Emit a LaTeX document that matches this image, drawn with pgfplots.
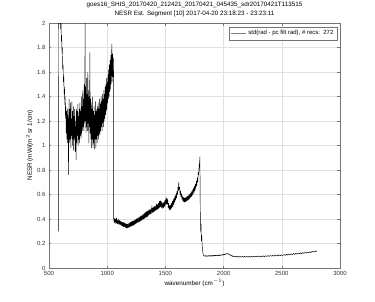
\documentclass[border=0pt]{standalone}
\usepackage{fontspec}
\setmainfont{Liberation Sans}
\usepackage{pgfplots}
\pgfplotsset{compat=1.18}
\begin{document}
\begin{tikzpicture}
\begin{axis}[
  scale only axis, width=291pt, height=245pt,
  xmin=500, xmax=3000, ymin=0, ymax=2,
  xtick={500,1000,1500,2000,2500,3000},
  ytick={0,0.2,0.4,0.6,0.8,1,1.2,1.4,1.6,1.8,2},
  grid=major, grid style={black!12, line width=0.3pt},
  axis line style={black!55, line width=0.4pt},
  tick style={black!55, line width=0.4pt},
  tick align=inside, major tick length=2.5pt,
  /pgf/number format/assume math mode=true,
  /pgf/number format/set thousands separator={},
  ticklabel style={font=\fontsize{6}{7}\selectfont, text=black!80},
  scaled ticks=false,
  title={goes16\_SHIS\_20170420\_212421\_20170421\_045435\_sdr20170421T113515\\NESR Est. Segment [10] 2017-04-20 23:18:23 - 23:23:11},
  title style={align=center, font=\fontsize{6.3}{9}\selectfont, yshift=-3pt},
  xlabel={wavenumber (cm$^{-1}$)},
  ylabel={NESR (mW/(m$^2$ sr 1/cm)},
  label style={font=\fontsize{6.3}{7}\selectfont},
  xlabel style={yshift=3pt},
  ylabel style={yshift=-3pt},
  legend style={at={(0.99,0.985)}, anchor=north east, draw=black!55, line width=0.4pt,
    font=\fontsize{6}{7}\selectfont, inner sep=1.5pt, legend cell align=left},
  legend image code/.code={\draw[black!50, line width=0.4pt] (0cm,0cm) -- (0.55cm,0cm);},
]
\addplot[black, line width=0.45pt, line join=bevel] coordinates {
(580,0.30) (582,2.10) (590,2.05) (595,2.10)
(600,1.95) (603,2.05) (606,1.85) (609,1.90) (612,1.75) (615,1.80) (618,1.62) (621,1.66)
(624,1.52) (627,1.56) (630,1.42) (633,1.48) (636,1.33) (639,1.40) (642,1.22) (645,1.32)
(648,1.10) (651,1.28) (654,1.05) (657,1.30) (660,1.02) (663,1.25) (666,1.08) (668,0.76)
(670,1.20) (673,1.38) (676,1.02) (679,1.30) (682,1.05) (685,1.35) (688,0.98) (691,1.22)
(694,1.08) (697,1.36) (700,1.00) (703,1.28) (706,1.05) (709,1.32) (712,0.96) (715,1.24)
(718,1.06) (721,1.30) (724,0.95) (727,1.20) (730,1.05) (733,0.88) (736,1.30) (739,1.02)
(742,1.28) (745,1.08) (748,1.34) (751,1.00) (754,1.24) (757,1.05) (760,1.30) (763,1.02)
(766,1.35) (769,1.08) (772,1.28) (775,1.05) (778,1.40) (781,1.10) (784,1.32) (787,1.12)
(790,1.45) (793,1.15) (796,1.38) (799,1.12) (802,1.50) (805,1.18) (808,1.42) (810,2.00)
(812,1.20) (815,1.48) (818,1.10) (821,1.55) (824,1.15) (827,1.42) (830,1.12) (833,1.60)
(836,1.18) (839,1.45) (842,1.02) (845,1.40) (848,1.15) (851,1.76) (854,1.10) (857,1.38)
(860,1.05) (863,1.35) (866,0.98) (869,1.30) (872,1.05) (875,1.40) (878,0.98) (881,1.28)
(884,1.02) (887,1.32) (890,0.97) (893,1.25) (896,1.05) (899,1.36) (902,0.98) (905,1.28)
(908,1.05) (911,1.30) (914,1.02) (917,1.32) (920,1.08) (923,1.35) (926,1.05) (929,1.30)
(932,1.10) (935,1.38) (938,1.08) (941,1.34) (944,1.12) (947,1.40) (950,1.15) (953,1.36)
(956,1.12) (959,1.42) (962,1.18) (965,1.38) (968,1.15) (971,1.45) (974,1.20) (977,1.42)
(980,1.22) (983,1.48) (986,1.25) (989,1.50) (992,1.28) (995,1.55) (998,1.30) (1001,1.52)
(1004,1.35) (1007,1.58) (1010,1.38) (1013,1.62) (1016,1.40) (1019,1.66) (1022,1.44)
(1025,1.70) (1028,1.46) (1031,1.74) (1034,1.50) (1037,1.70) (1040,1.83) (1043,1.52)
(1046,1.75) (1049,1.56) (1052,1.72) (1055,1.58)
(1056,0.40) (1060,0.37) (1064,0.41) (1068,0.36) (1072,0.40) (1076,0.37) (1080,0.41)
(1084,0.36) (1088,0.39) (1092,0.36) (1096,0.40) (1100,0.355) (1104,0.39) (1108,0.355)
(1112,0.385) (1116,0.35) (1120,0.38) (1124,0.345) (1128,0.375) (1132,0.34) (1136,0.375)
(1140,0.335) (1144,0.37) (1148,0.335) (1152,0.37) (1156,0.33) (1160,0.365) (1164,0.325)
(1168,0.36) (1172,0.325) (1176,0.36) (1180,0.325) (1184,0.365) (1188,0.33) (1192,0.37)
(1196,0.335) (1200,0.375) (1204,0.34) (1208,0.38) (1212,0.34) (1216,0.385) (1220,0.345)
(1224,0.385) (1228,0.35) (1232,0.39) (1236,0.355) (1240,0.395) (1244,0.36) (1248,0.40)
(1252,0.365) (1256,0.405) (1260,0.37) (1264,0.41) (1268,0.37) (1272,0.415) (1276,0.375)
(1280,0.42) (1284,0.38) (1288,0.425) (1292,0.385) (1296,0.43) (1300,0.39) (1304,0.435)
(1308,0.395) (1312,0.44) (1316,0.40) (1320,0.45) (1324,0.405) (1328,0.455) (1332,0.41)
(1336,0.46) (1340,0.415) (1344,0.465) (1348,0.42) (1352,0.47) (1356,0.43) (1360,0.48)
(1364,0.435) (1368,0.475) (1372,0.44) (1376,0.485) (1380,0.445) (1384,0.51) (1388,0.45)
(1392,0.49) (1396,0.455) (1400,0.50) (1404,0.46) (1408,0.505) (1412,0.465) (1416,0.51)
(1420,0.47) (1424,0.525) (1428,0.475) (1432,0.52) (1436,0.48) (1440,0.53) (1444,0.485)
(1448,0.545) (1452,0.49) (1456,0.55) (1460,0.50) (1464,0.545) (1468,0.49) (1472,0.535)
(1476,0.485) (1480,0.53) (1484,0.49) (1488,0.54) (1492,0.50) (1496,0.555) (1500,0.51)
(1504,0.57) (1508,0.52) (1512,0.575) (1516,0.52) (1520,0.56) (1524,0.49) (1528,0.53)
(1532,0.475) (1536,0.51) (1540,0.47) (1544,0.515) (1548,0.48) (1552,0.53) (1556,0.49)
(1560,0.545) (1564,0.50) (1568,0.56) (1572,0.515) (1576,0.575) (1580,0.535) (1584,0.59)
(1588,0.555) (1592,0.61) (1596,0.57) (1600,0.63) (1604,0.60) (1608,0.66) (1612,0.63)
(1615,0.70) (1618,0.64) (1622,0.66) (1626,0.60) (1630,0.63) (1634,0.58) (1638,0.61)
(1642,0.56) (1646,0.59) (1650,0.545) (1654,0.58) (1658,0.54) (1662,0.575) (1666,0.535)
(1670,0.575) (1674,0.54) (1678,0.58) (1682,0.545) (1686,0.585) (1690,0.55) (1694,0.59)
(1698,0.555) (1702,0.60) (1706,0.56) (1710,0.605) (1714,0.57) (1718,0.615) (1722,0.58)
(1726,0.625) (1730,0.59) (1734,0.64) (1738,0.60) (1742,0.655) (1746,0.615) (1750,0.67)
(1754,0.63) (1758,0.685) (1762,0.65) (1766,0.71) (1770,0.67) (1774,0.74) (1778,0.70)
(1782,0.78) (1786,0.76) (1790,0.85) (1793,0.82) (1796,0.91)
(1798,0.70) (1800,0.40) (1803,0.30) (1806,0.36) (1809,0.22) (1812,0.27) (1816,0.18)
(1820,0.14) (1825,0.11) (1830,0.100) (1836,0.097)
(1840,0.101) (1845,0.095) (1850,0.102) (1855,0.096) (1860,0.100) (1865,0.095) (1870,0.102)
(1875,0.096) (1880,0.101) (1885,0.096) (1890,0.103) (1895,0.097) (1900,0.102) (1905,0.097)
(1910,0.104) (1915,0.098) (1920,0.103) (1925,0.098) (1930,0.105) (1935,0.099) (1940,0.104)
(1945,0.100) (1950,0.106) (1955,0.100) (1960,0.106) (1965,0.101) (1970,0.108) (1975,0.102)
(1980,0.108) (1985,0.104) (1990,0.110) (1995,0.105) (2000,0.112) (2005,0.107) (2010,0.114)
(2015,0.110) (2020,0.117) (2025,0.113) (2030,0.119) (2035,0.114) (2040,0.118) (2045,0.111)
(2050,0.113) (2055,0.105) (2060,0.107) (2065,0.099) (2070,0.102) (2075,0.095) (2080,0.099)
(2090,0.092) (2100,0.097) (2110,0.090) (2120,0.096) (2130,0.089) (2140,0.095) (2150,0.088)
(2160,0.095) (2170,0.089) (2180,0.095) (2190,0.088) (2200,0.095) (2210,0.089) (2220,0.096)
(2230,0.089) (2240,0.096) (2250,0.090) (2260,0.097) (2270,0.090) (2280,0.097) (2290,0.091)
(2300,0.098) (2310,0.091) (2320,0.098) (2330,0.092) (2340,0.099) (2350,0.093) (2360,0.100)
(2370,0.094) (2380,0.101) (2390,0.095) (2400,0.102) (2410,0.096) (2420,0.103) (2430,0.097)
(2440,0.104) (2450,0.098) (2460,0.105) (2470,0.099) (2480,0.107) (2490,0.100) (2500,0.108)
(2510,0.102) (2520,0.110) (2530,0.103) (2540,0.112) (2550,0.105) (2560,0.114) (2570,0.107)
(2580,0.116) (2590,0.109) (2600,0.118) (2610,0.111) (2620,0.120) (2630,0.113) (2640,0.122)
(2650,0.115) (2660,0.124) (2670,0.117) (2680,0.126) (2690,0.119) (2700,0.128) (2710,0.121)
(2720,0.131) (2730,0.123) (2740,0.133) (2750,0.126) (2760,0.136) (2770,0.129) (2780,0.139)
(2790,0.132) (2800,0.140)
};
\addlegendentry{std(rad - pc filt rad), \# recs:\ \ 272}
\end{axis}
\pgfresetboundingbox
\path[use as bounding box] ([shift={(-49pt,-33pt)}]current axis.south west) rectangle ([shift={(326pt,268pt)}]current axis.south west);
\end{tikzpicture}
\end{document}
